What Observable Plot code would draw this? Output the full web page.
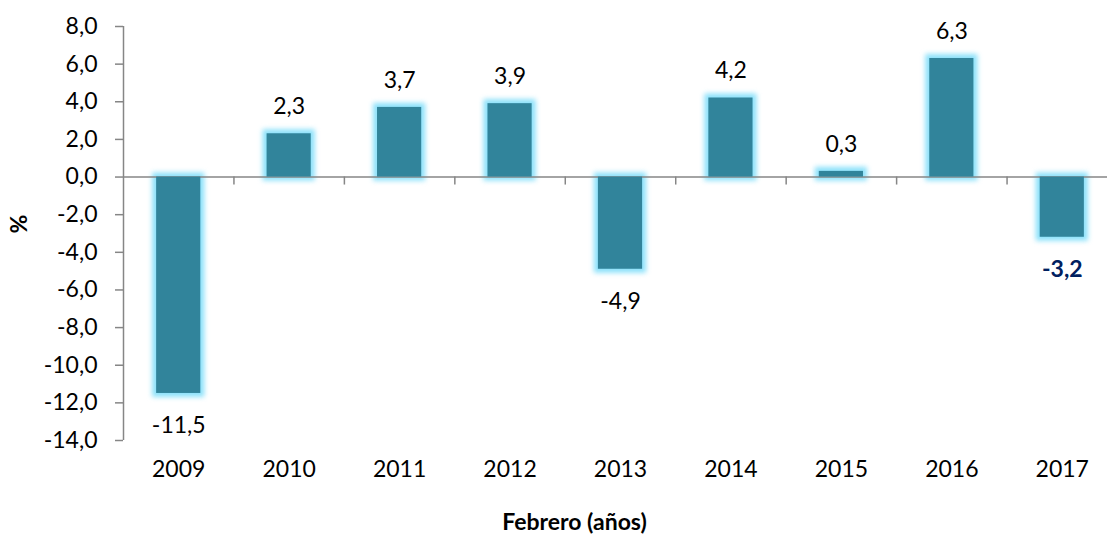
<!DOCTYPE html>
<html><head><meta charset="utf-8">
<script src="https://cdn.jsdelivr.net/npm/d3@7"></script>
<script src="https://cdn.jsdelivr.net/npm/@observablehq/plot@0.6"></script>
<style>body{margin:0;background:#fff;overflow:hidden}</style>
</head><body><div id="chart"></div>
<script>
const years = [2009, 2010, 2011, 2012, 2013, 2014, 2015, 2016, 2017];
const values = [-11.5, 2.3, 3.7, 3.9, -4.9, 4.2, 0.3, 6.3, -3.2];
const yTicks = [-14, -12, -10, -8, -6, -4, -2, 0, 2, 4, 6, 8];
const xTitle = "Febrero (años)";
const yTitle = "%";
const highlightYear = 2017;

const data = years.map((year, i) => ({year, value: values[i]}));
const boundaries = years.map(y => y + 0.5);
const fmt = v => v.toFixed(1).replace(".", ",");
const font = "Lato, 'Open Sans', sans-serif";
const grey = "#868686";

const plot = Plot.plot({
  width: 1107, height: 542,
  marginTop: 26, marginBottom: 102, marginLeft: 123, marginRight: 0,
  style: {fontFamily: font, fontSize: "23px", color: "#000", background: "#fff", overflow: "hidden"},
  x: {domain: [years[0] - 0.5, years[years.length - 1] + 0.5], range: [123, 1117], axis: null},
  y: {domain: [yTicks[0], yTicks[yTicks.length - 1]], axis: null},
  marks: [
    Plot.rectY(data, {x1: d => d.year - 0.2, x2: d => d.year + 0.2, y1: 0, y2: "value", fill: "rgb(140,225,250)", inset: -4}),
    Plot.ruleY([0], {stroke: grey, strokeWidth: 1.5}),
    Plot.rectY(data, {x1: d => d.year - 0.2, x2: d => d.year + 0.2, y1: 0, y2: "value", fill: "#31849b"}),
    Plot.ruleX([years[0] - 0.5], {stroke: grey, strokeWidth: 1.5}),
    Plot.ruleY(yTicks, {y: d => d, x1: years[0] - 0.5, x2: years[0] - 0.5, insetLeft: -8, stroke: grey, strokeWidth: 1.5}),
    Plot.ruleX(boundaries, {x: d => d, y1: 0, y2: 0, insetBottom: -8, stroke: grey, strokeWidth: 1.5}),
    Plot.text(yTicks, {y: d => d, frameAnchor: "left", dx: -26, textAnchor: "end", text: fmt, fill: "#000"}),
    Plot.text(years, {x: d => d, frameAnchor: "bottom", dy: 36, text: d => String(d), fill: "#000"}),
    Plot.text(data.filter(d => d.value >= 0 && d.year !== highlightYear), {x: "year", y: "value", text: d => fmt(d.value), dy: -27, fill: "#000"}),
    Plot.text(data.filter(d => d.value < 0 && d.year !== highlightYear), {x: "year", y: "value", text: d => fmt(d.value), dy: 32, fill: "#000"}),
    Plot.text(data.filter(d => d.year === highlightYear), {x: "year", y: "value", text: d => fmt(d.value), dy: 32, fill: "#002060", fontWeight: "bold"}),
    Plot.text([xTitle], {frameAnchor: "bottom", dy: 89, dx: -41, fontWeight: "bold", fill: "#000"}),
    Plot.text([yTitle], {frameAnchor: "left", dx: -104, rotate: -90, fontWeight: "bold", fill: "#000"})
  ]
});
const rectGroups = plot.querySelectorAll('g[aria-label="rect"]');
if (rectGroups.length) rectGroups[0].style.filter = "blur(2.5px)";
document.getElementById("chart").appendChild(plot);
</script>
</body></html>
